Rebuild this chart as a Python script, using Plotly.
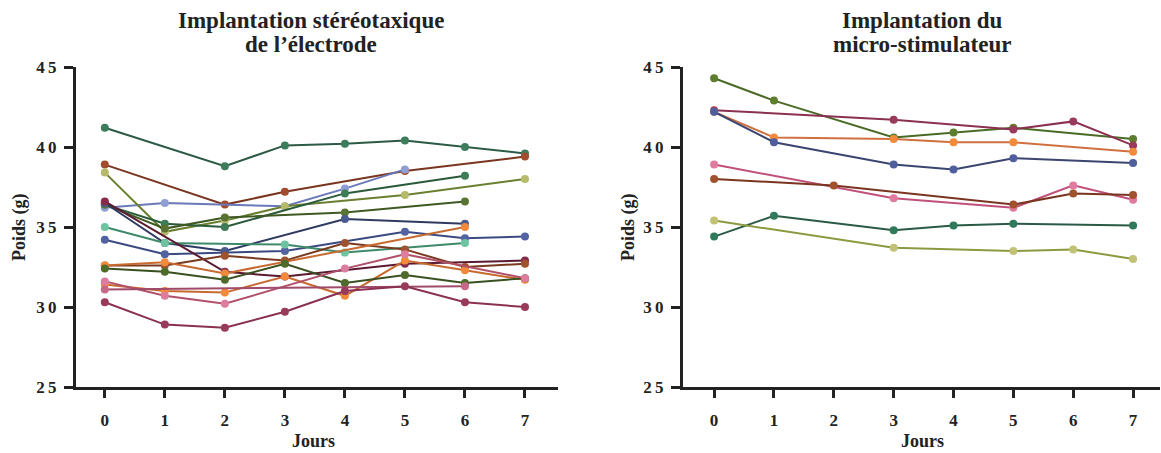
import plotly.graph_objects as go

days = [0, 1, 2, 3, 4, 5, 6, 7]
N = None

# ---- Left panel: Implantation stéréotaxique de l'électrode ----
left_A = [41.2, N, 38.8, 40.1, 40.2, 40.4, 40.0, 39.6]
left_B = [38.9, N, 36.4, 37.2, N, 38.5, N, 39.4]
left_C = [36.2, 36.5, N, 36.3, 37.4, 38.6, N, N]
left_D = [38.4, 34.7, 35.4, 36.3, N, 37.0, N, 38.0]
left_E = [36.4, 35.2, 35.0, N, 37.1, N, 38.2, N]
left_F = [36.4, 34.9, 35.6, N, 35.9, N, 36.6, N]
left_G = [36.5, 34.0, 33.5, N, 35.5, N, 35.2, N]
left_H = [34.2, 33.3, N, 33.5, N, 34.7, 34.3, 34.4]
left_I = [35.0, 34.0, N, 33.9, 33.4, N, 34.0, N]
left_J = [36.6, N, 32.2, 31.9, N, 32.7, N, 32.9]
left_K = [32.6, 32.6, 33.2, 32.9, 34.0, 33.6, 32.5, 32.7]
left_M1 = [32.6, 32.8, 32.1, N, N, N, 35.0, N]
left_M2 = [31.4, 31.0, 30.9, 31.9, 30.7, 32.9, 32.3, 31.7]
left_N = [32.4, 32.2, 31.7, 32.7, 31.5, 32.0, 31.5, 31.8]
left_O = [31.6, 30.7, 30.2, N, 32.4, 33.3, N, 31.8]
left_P = [31.1, N, N, N, N, N, 31.3, N]
left_Q = [30.3, 28.9, 28.7, 29.7, 31.0, 31.3, 30.3, 30.0]

# ---- Right panel: Implantation du micro-stimulateur ----
right_1 = [44.3, 42.9, N, 40.6, 40.9, 41.2, N, 40.5]
right_2 = [42.3, N, N, 41.7, N, 41.1, 41.6, 40.1]
right_3 = [42.2, 40.6, N, 40.5, 40.3, 40.3, N, 39.7]
right_4 = [42.2, 40.3, N, 38.9, 38.6, 39.3, N, 39.0]
right_5 = [38.9, N, N, 36.8, N, 36.2, 37.6, 36.7]
right_6 = [38.0, N, 37.6, N, N, 36.4, 37.1, 37.0]
right_7 = [34.4, 35.7, N, 34.8, 35.1, 35.2, N, 35.1]
right_8 = [35.4, N, N, 33.7, N, 33.5, 33.6, 33.0]

y_ticks = [25, 30, 35, 40, 45]
y_tick_text = ["2\u20095", "3\u20090", "3\u20095", "4\u20090", "4\u20095"]

left_title = ["Implantation stéréotaxique", "de l’électrode"]
right_title = ["Implantation du", "micro-stimulateur"]

left_series = [
    (left_A, "#2c5a45", "#3b7d5c"),
    (left_B, "#7a3520", "#a34b2c"),
    (left_C, "#6a7ab8", "#8f9ed4"),
    (left_D, "#6b7f30", "#b7ba68"),
    (left_E, "#2a5a3a", "#3c7c57"),
    (left_F, "#3e5a22", "#5a7232"),
    (left_G, "#2e3a60", "#4a5a92"),
    (left_H, "#3a4a80", "#5262a2"),
    (left_I, "#3d8a6a", "#6cc4a0"),
    (left_J, "#5a1a30", "#8a2a4a"),
    (left_K, "#7a3a1f", "#a0522d"),
    (left_M1, "#c86a30", "#f28a3a"),
    (left_M2, "#c86a30", "#f28a3a"),
    (left_N, "#3a5020", "#4f6b2a"),
    (left_O, "#b0506a", "#de7c9e"),
    (left_P, "#a04a6a", "#c86888"),
    (left_Q, "#8a3050", "#9a3a5a"),
]

right_series = [
    (right_1, "#4a6a25", "#5f7d2e"),
    (right_2, "#8a3050", "#9a3a5a"),
    (right_3, "#d07040", "#f28a3a"),
    (right_4, "#3a4570", "#4f5f9e"),
    (right_5, "#c0507a", "#e07a9e"),
    (right_6, "#7a3520", "#a0522d"),
    (right_7, "#2a5a45", "#2f7a5a"),
    (right_8, "#8a9a40", "#c2c274"),
]

fig = go.Figure()

for vals, lc, mc in left_series:
    fig.add_trace(go.Scatter(x=days, y=vals, mode="lines+markers", connectgaps=True,
                             line=dict(color=lc, width=2),
                             marker=dict(color=mc, size=8, line=dict(width=0)),
                             xaxis="x", yaxis="y", showlegend=False))

for vals, lc, mc in right_series:
    fig.add_trace(go.Scatter(x=days, y=vals, mode="lines+markers", connectgaps=True,
                             line=dict(color=lc, width=2),
                             marker=dict(color=mc, size=8, line=dict(width=0)),
                             xaxis="x2", yaxis="y2", showlegend=False))

W, H = 1161, 453
font_family = "Liberation Serif"
tickfont = dict(family=font_family, size=17, color="#222222", weight="bold")

def xaxis(dom, rng):
    return dict(domain=dom, range=rng, tickvals=days, ticks="outside", ticklen=8,
                tickwidth=3, tickcolor="#222222", showline=True, linewidth=3,
                linecolor="#222222", showgrid=False, zeroline=False,
                tickfont=tickfont, ticklabelstandoff=8, automargin=False)

def yaxis(anchor):
    return dict(domain=[1 - 387 / H, 1 - 67 / H], range=[25, 45], tickvals=y_ticks,
                ticktext=y_tick_text,
                ticks="outside", ticklen=9, tickwidth=3, tickcolor="#222222",
                showline=True, linewidth=3, linecolor="#222222", showgrid=False,
                zeroline=False, tickfont=tickfont, anchor=anchor, ticklabelstandoff=4,
                automargin=False)

fig.update_layout(
    width=W, height=H,
    margin=dict(l=0, r=0, t=0, b=0, pad=0),
    paper_bgcolor="white", plot_bgcolor="white",
    xaxis=xaxis([76 / W, 558 / W], [-0.48, 7.55]) | dict(anchor="y"),
    yaxis=yaxis("x"),
    xaxis2=xaxis([683 / W, 1160 / W], [-0.52, 7.45]) | dict(anchor="y2"),
    yaxis2=yaxis("x2"),
)

title_font = dict(family=font_family, size=23, color="#222222", weight="bold")
ann_font = dict(family=font_family, size=18, color="#222222", weight="bold")
annotations = [
    dict(text=left_title[0], x=311 / W, y=1 - 20 / H, font=title_font),
    dict(text=left_title[1], x=311 / W, y=1 - 45 / H, font=title_font),
    dict(text=right_title[0], x=922 / W, y=1 - 20 / H, font=title_font),
    dict(text=right_title[1], x=922 / W, y=1 - 45 / H, font=title_font),
    dict(text="Jours", x=314 / W, y=1 - 441 / H, font=ann_font),
    dict(text="Jours", x=922 / W, y=1 - 441 / H, font=ann_font),
    dict(text="Poids (g)", x=19 / W, y=1 - 227 / H, textangle=-90, font=ann_font),
    dict(text="Poids (g)", x=628 / W, y=1 - 227 / H, textangle=-90, font=ann_font),
]
for a in annotations:
    a.update(xref="paper", yref="paper", showarrow=False, xanchor="center", yanchor="middle")
fig.update_layout(annotations=annotations)

fig.write_html("out.html", config={"displayModeBar": False},
               post_script="document.body.style.margin='0px';document.body.style.overflow='hidden';")
